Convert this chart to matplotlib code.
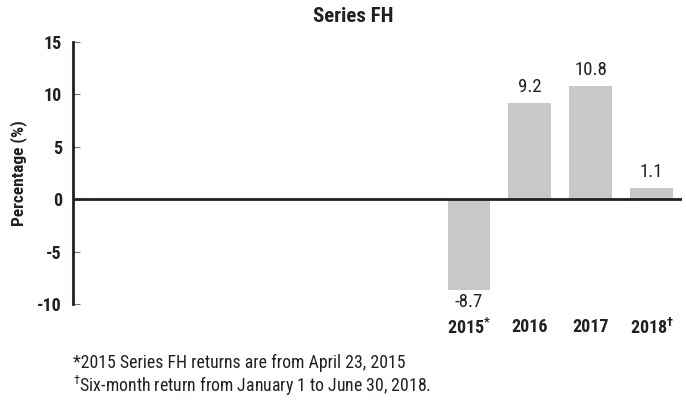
"""
Series FH の年次リターンを棒グラフで描く。
"""

import matplotlib
matplotlib.use("Agg")
import matplotlib.pyplot as plt

years = ["2015$^{*}$", "2016", "2017", "2018$^{†}$"]
returns = [-8.7, 9.2, 10.8, 1.1]
value_labels = ["-8.7", "9.2", "10.8", "1.1"]
y_ticks = [-10, -5, 0, 5, 10, 15]
footnotes = [
    "*2015 Series FH returns are from April 23, 2015",
    "$^{†}$Six-month return from January 1 to June 30, 2018.",
]

INK = "#231f20"
BAR = "#c7c8ca"

plt.rcParams["font.family"] = ["Roboto Condensed", "DejaVu Sans"]
plt.rcParams["mathtext.default"] = "regular"
plt.rcParams["text.color"] = INK

fig = plt.figure(figsize=(6.86, 4.0), dpi=100)
ax = fig.add_axes([73 / 686, 1 - 304 / 400, 609 / 686, 262 / 400])

# 左側に空きスロットが6つある
x = list(range(len(years)))
ax.bar(x, returns, width=0.7, color=BAR, zorder=2)
ax.set_xlim(-6.5, 3.5)
ax.set_ylim(-10, 15)

for xi, v, lab in zip(x, returns, value_labels):
    if v >= 0:
        ax.annotate(lab, (xi, v), xytext=(0, 5), textcoords="offset points",
                    ha="center", va="bottom", fontsize=13.5, color=INK)
    else:
        ax.annotate(lab, (xi, v), xytext=(0, -2), textcoords="offset points",
                    ha="center", va="top", fontsize=13.5, color=INK)

ax.axhline(0, color=INK, linewidth=2, zorder=3)

ax.set_xticks(x)
ax.set_xticklabels(years, fontsize=13, fontweight="bold", color=INK)
ax.tick_params(axis="x", length=0, pad=10)
ax.set_yticks(y_ticks)
ax.set_yticklabels([str(t) for t in y_ticks], fontsize=13, fontweight="bold", color=INK)
ax.tick_params(axis="y", direction="in", length=5, width=0.8, color="#777777", pad=8)

for side in ["top", "right", "bottom"]:
    ax.spines[side].set_visible(False)
ax.spines["left"].set_linewidth(2)
ax.spines["left"].set_color(INK)

ax.set_ylabel("Percentage (%)", fontsize=12.5, fontweight="bold", color=INK)
ax.yaxis.set_label_coords((27 - 73) / 609, 0.5)

fig.text(353 / 686, 1 - 16 / 400, "Series FH", ha="center", va="center",
         fontsize=15, fontweight="bold", color=INK)

fig.text(73 / 686, 1 - 363 / 400, footnotes[0], ha="left", va="center", fontsize=12.8, color=INK)
fig.text(73 / 686, 1 - 386 / 400, footnotes[1], ha="left", va="center", fontsize=12.8, color=INK)

fig.savefig("out.png", dpi=100)
